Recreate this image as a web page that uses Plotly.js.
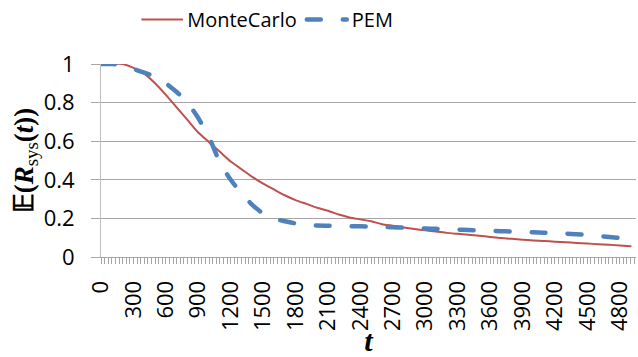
<!DOCTYPE html>
<html>
<head>
<meta charset="utf-8">
<script src="https://cdn.plot.ly/plotly-3.0.1.min.js"></script>
<style>html,body{margin:0;padding:0;background:#fff;}#chart{width:638px;height:357px;}</style>
</head>
<body>
<div id="chart"></div>
<script>
var tValues = [0,100,200,300,400,500,600,700,800,900,1000,1100,1200,1300,1400,1500,1600,1700,1800,1900,
  2000,2100,2200,2300,2400,2500,2600,2700,2800,2900,3000,3100,3200,3300,3400,3500,3600,3700,3800,3900,
  4000,4100,4200,4300,4400,4500,4600,4700,4800,4900];
var monteCarlo = [1.0,1.0,1.0,0.98,0.95,0.90,0.84,0.775,0.71,0.645,0.595,0.545,0.495,0.455,0.415,0.38,0.35,0.32,0.295,0.275,
  0.255,0.24,0.22,0.205,0.195,0.185,0.17,0.162,0.153,0.145,0.138,0.132,0.125,0.12,0.115,0.11,0.104,0.098,0.094,0.09,
  0.086,0.083,0.079,0.076,0.073,0.07,0.066,0.063,0.06,0.056];
var pem = [1.0,1.0,0.995,0.975,0.955,0.935,0.9,0.855,0.8,0.72,0.62,0.49,0.4,0.33,0.27,0.225,0.2,0.185,0.174,0.166,
  0.163,0.162,0.161,0.16,0.159,0.158,0.156,0.154,0.152,0.15,0.148,0.146,0.144,0.142,0.14,0.138,0.136,0.134,0.132,0.13,
  0.128,0.126,0.124,0.121,0.118,0.114,0.109,0.104,0.099,0.095];
var xTickVals = [0,300,600,900,1200,1500,1800,2100,2400,2700,3000,3300,3600,3900,4200,4500,4800];
var xTickText = ["0","300","600","900","1200","1500","1800","2100","2400","2700","3000","3300","3600","3900","4200","4500","4800"];
var yTickVals = [0,0.2,0.4,0.6,0.8,1];
var yTickText = ["0","0.2","0.4","0.6","0.8","1"];

var traces = [
  {x: tValues, y: monteCarlo, name: "MonteCarlo", type: "scatter", mode: "lines",
   line: {color: "#C0504D", width: 2, shape: "spline", smoothing: 0.6}},
  {x: tValues, y: pem, name: "PEM", type: "scatter", mode: "lines",
   line: {color: "#4F81BD", width: 4.5, dash: "14px,22px", shape: "spline", smoothing: 0.6}}
];

var font = "Open Sans, Liberation Sans, sans-serif";
var serif = "Liberation Serif, DejaVu Serif, serif";
var layout = {
  width: 638, height: 357,
  margin: {l: 101, r: 2, t: 64, b: 100},
  paper_bgcolor: "#ffffff", plot_bgcolor: "#ffffff",
  showlegend: true,
  legend: {orientation: "h", x: 0.215, xref: "container", xanchor: "left", y: 1.0, yref: "container", yanchor: "top",
    font: {family: font, size: 20, color: "#000"}, itemwidth: 40, tracegroupgap: 0, bgcolor: "rgba(0,0,0,0)"},
  xaxis: {
    range: [0, 4950], tickmode: "array", tickvals: xTickVals, ticktext: xTickText, tickangle: -90,
    ticks: "outside", ticklen: 6, tickcolor: "#A6A6A6", tickwidth: 1,
    minor: {dtick: 33.3333, tick0: 0, ticks: "outside", ticklen: 6, tickcolor: "#A6A6A6", tickwidth: 1, showgrid: false},
    showgrid: false, zeroline: false, showline: true, linecolor: "#A6A6A6", linewidth: 1,
    tickfont: {family: font, size: 22, color: "#000"}, ticklabelstandoff: 8,
    title: {text: "<b><i>t</i></b>", font: {family: serif, size: 30, color: "#000"}, standoff: 0},
    fixedrange: true
  },
  yaxis: {
    range: [0, 1], tickmode: "array", tickvals: yTickVals, ticktext: yTickText,
    ticks: "outside", ticklen: 9, tickcolor: "#A6A6A6", tickwidth: 1,
    showgrid: true, gridcolor: "#A6A6A6", gridwidth: 1, zeroline: false,
    showline: true, linecolor: "#BFBFBF", linewidth: 1,
    tickfont: {family: font, size: 22, color: "#000"}, ticklabelstandoff: 12,
    title: {text: "<b>\uD835\uDD3C(<i>R</i></b><sub>sys</sub><b>(<i>t</i>))</b>", font: {family: serif, size: 27, color: "#000"}, standoff: 2},
    fixedrange: true
  }
};
Plotly.newPlot("chart", traces, layout, {displayModeBar: false, staticPlot: true}).then(function (gd) {
  var paths = gd.querySelectorAll(".scatterlayer .trace path.js-line, .legend .legendlines path");
  paths.forEach(function (p) { p.style.strokeLinecap = "round"; });
});
</script>
</body>
</html>
